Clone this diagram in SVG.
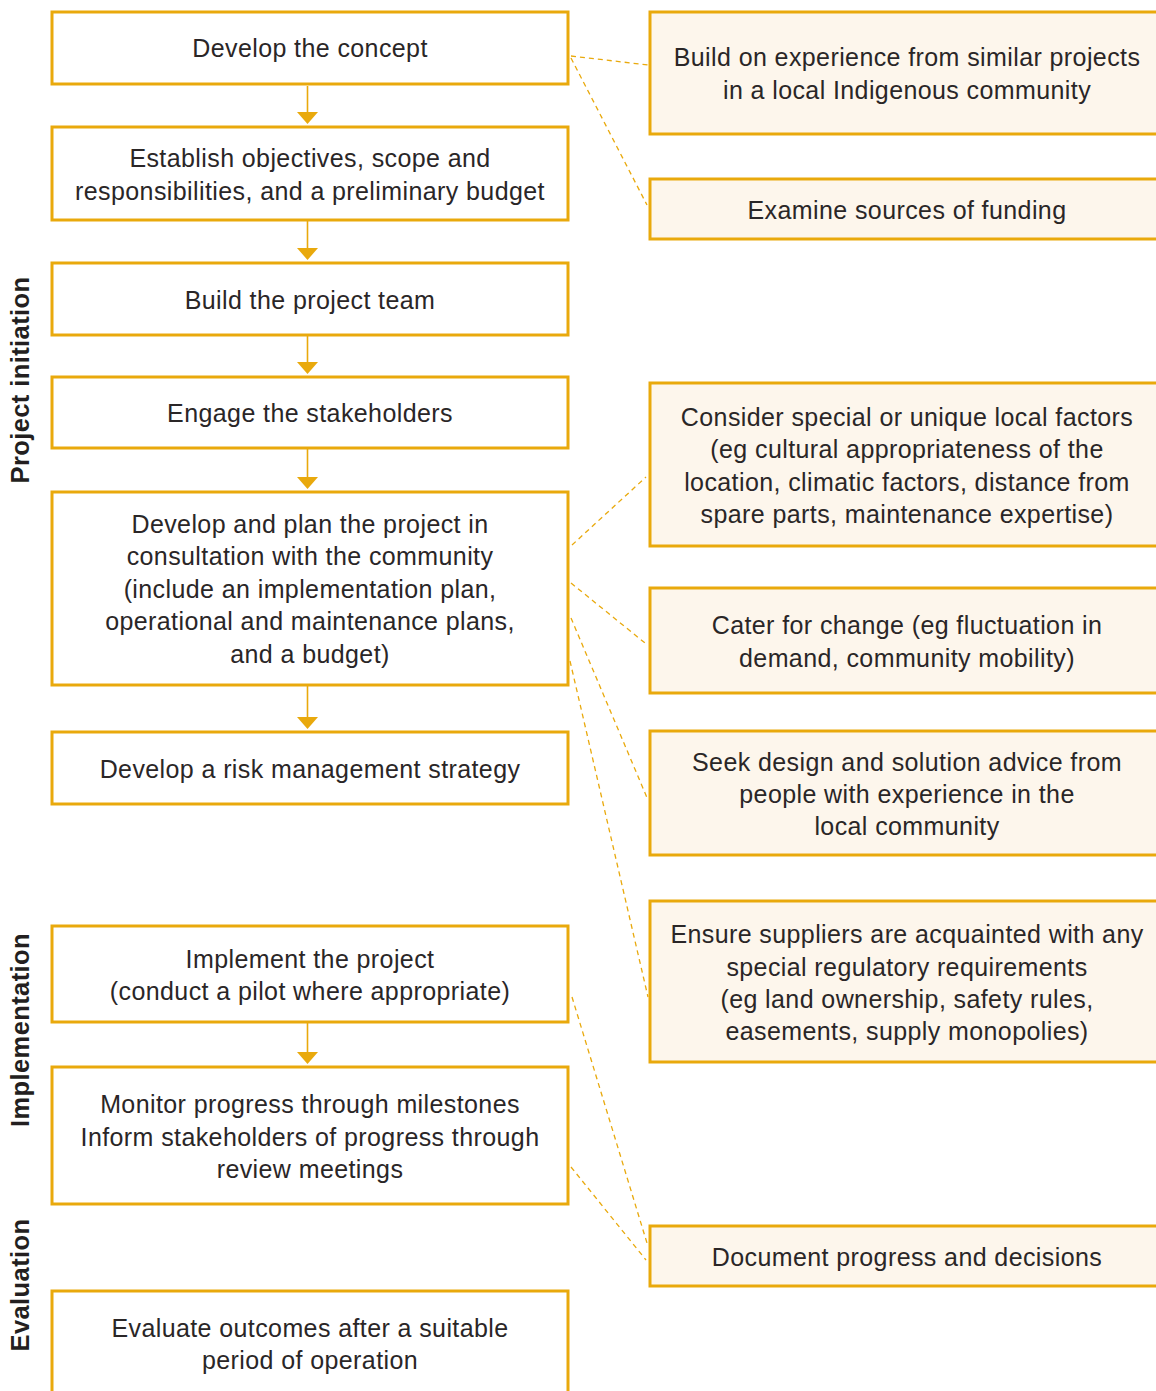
<svg xmlns="http://www.w3.org/2000/svg" width="1156" height="1391" viewBox="0 0 1156 1391">
<style>
.box{fill:#fff;stroke:#e9a90c;stroke-width:3}
.side{fill:#fdf6ec;stroke:#e9a90c;stroke-width:3}
.t{font-family:"Liberation Sans",Arial,sans-serif;font-size:25px;letter-spacing:0.4px;fill:#2a2627;text-anchor:middle}
.lbl{font-family:"Liberation Sans",Arial,sans-serif;font-size:25.5px;letter-spacing:0.4px;font-weight:bold;fill:#231f20;text-anchor:middle}
.arr{stroke:#e9a90c;stroke-width:1.6;fill:none}
.head{fill:#e9a90c}
.dash{stroke:#e9a90c;stroke-width:1.3;stroke-dasharray:5 4;fill:none}
</style>
<rect width="1156" height="1391" fill="#fff"/>
<g id="labels">
<text class="lbl" transform="translate(29,380) rotate(-90)">Project initiation</text>
<text class="lbl" transform="translate(29,1030) rotate(-90)">Implementation</text>
<text class="lbl" transform="translate(29,1285) rotate(-90)">Evaluation</text>
</g>
<g id="connectors">
<line class="arr" x1="307.5" y1="86" x2="307.5" y2="113"/><polygon class="head" points="297,112 318,112 307.5,124"/>
<line class="arr" x1="307.5" y1="221" x2="307.5" y2="249"/><polygon class="head" points="297,248 318,248 307.5,260"/>
<line class="arr" x1="307.5" y1="336" x2="307.5" y2="363"/><polygon class="head" points="297,362 318,362 307.5,374"/>
<line class="arr" x1="307.5" y1="449" x2="307.5" y2="478"/><polygon class="head" points="297,477 318,477 307.5,489"/>
<line class="arr" x1="307.5" y1="686" x2="307.5" y2="718"/><polygon class="head" points="297,717 318,717 307.5,729"/>
<line class="arr" x1="307.5" y1="1023" x2="307.5" y2="1053"/><polygon class="head" points="297,1052 318,1052 307.5,1064"/>
<line class="dash" x1="571" y1="56" x2="648" y2="65"/>
<line class="dash" x1="571" y1="58" x2="647" y2="205"/>
<line class="dash" x1="572" y1="545" x2="646" y2="477"/>
<line class="dash" x1="571" y1="583" x2="645" y2="643"/>
<line class="dash" x1="571" y1="618" x2="648" y2="800"/>
<line class="dash" x1="570" y1="661" x2="648" y2="997"/>
<line class="dash" x1="572" y1="997" x2="647" y2="1243"/>
<line class="dash" x1="571" y1="1167" x2="646" y2="1260"/>
</g>
<g id="n1"><rect class="box" x="52" y="12" width="516" height="72"/><text class="t" x="310" y="57">Develop the concept</text></g>
<g id="n2"><rect class="box" x="52" y="127" width="516" height="93"/><text class="t" x="310" y="167">Establish objectives, scope and</text><text class="t" x="310" y="200">responsibilities, and a preliminary budget</text></g>
<g id="n3"><rect class="box" x="52" y="263" width="516" height="72"/><text class="t" x="310" y="309">Build the project team</text></g>
<g id="n4"><rect class="box" x="52" y="377" width="516" height="71"/><text class="t" x="310" y="422">Engage the stakeholders</text></g>
<g id="n5"><rect class="box" x="52" y="492" width="516" height="193"/>
<text class="t" x="310" y="533">Develop and plan the project in</text>
<text class="t" x="310" y="565">consultation with the community</text>
<text class="t" x="310" y="598">(include an implementation plan,</text>
<text class="t" x="310" y="630">operational and maintenance plans,</text>
<text class="t" x="310" y="663">and a budget)</text></g>
<g id="n6"><rect class="box" x="52" y="732" width="516" height="72"/><text class="t" x="310" y="778">Develop a risk management strategy</text></g>
<g id="n7"><rect class="box" x="52" y="926" width="516" height="96"/><text class="t" x="310" y="968">Implement the project</text><text class="t" x="310" y="1000">(conduct a pilot where appropriate)</text></g>
<g id="n8"><rect class="box" x="52" y="1067" width="516" height="137"/><text class="t" x="310" y="1113">Monitor progress through milestones</text><text class="t" x="310" y="1146">Inform stakeholders of progress through</text><text class="t" x="310" y="1178">review meetings</text></g>
<g id="n9"><rect class="box" x="52" y="1291" width="516" height="130"/><text class="t" x="310" y="1337">Evaluate outcomes after a suitable</text><text class="t" x="310" y="1369">period of operation</text></g>
<g id="r1"><rect class="side" x="650" y="12" width="520" height="122"/><text class="t" x="907" y="66">Build on experience from similar projects</text><text class="t" x="907" y="99">in a local Indigenous community</text></g>
<g id="r2"><rect class="side" x="650" y="179" width="520" height="60"/><text class="t" x="907" y="219">Examine sources of funding</text></g>
<g id="r3"><rect class="side" x="650" y="383" width="520" height="163"/><text class="t" x="907" y="426">Consider special or unique local factors</text><text class="t" x="907" y="458">(eg cultural appropriateness of the</text><text class="t" x="907" y="491">location, climatic factors, distance from</text><text class="t" x="907" y="523">spare parts, maintenance expertise)</text></g>
<g id="r4"><rect class="side" x="650" y="588" width="520" height="105"/><text class="t" x="907" y="634">Cater for change (eg fluctuation in</text><text class="t" x="907" y="667">demand, community mobility)</text></g>
<g id="r5"><rect class="side" x="650" y="731" width="520" height="124"/><text class="t" x="907" y="771">Seek design and solution advice from</text><text class="t" x="907" y="803">people with experience in the</text><text class="t" x="907" y="835">local community</text></g>
<g id="r6"><rect class="side" x="650" y="901" width="520" height="161"/><text class="t" x="907" y="943">Ensure suppliers are acquainted with any</text><text class="t" x="907" y="976">special regulatory requirements</text><text class="t" x="907" y="1008">(eg land ownership, safety rules,</text><text class="t" x="907" y="1040">easements, supply monopolies)</text></g>
<g id="r7"><rect class="side" x="650" y="1226" width="520" height="60"/><text class="t" x="907" y="1266">Document progress and decisions</text></g>
</svg>
